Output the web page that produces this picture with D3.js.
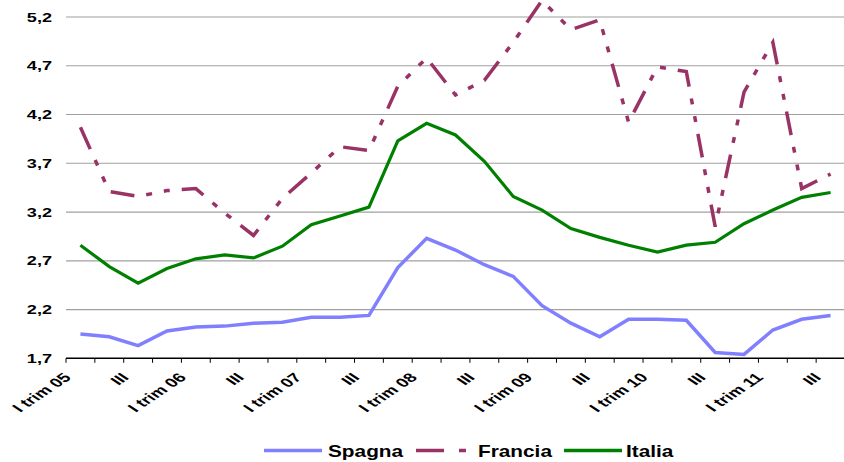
<!DOCTYPE html>
<html><head><meta charset="utf-8">
<script src="https://cdn.jsdelivr.net/npm/d3@7"></script>
<style>
html,body{margin:0;padding:0;background:#fff;}
text{font-family:"Liberation Sans",Arial,sans-serif;font-weight:bold;fill:#000;}
</style></head>
<body><svg id="c" width="844" height="462"></svg>
<script>
const quarters = ["I trim 05","II","III","IV","I trim 06","II","III","IV","I trim 07","II","III","IV",
  "I trim 08","II","III","IV","I trim 09","II","III","IV","I trim 10","II","III","IV","I trim 11","II","III"];
const yTicks = [1.7,2.2,2.7,3.2,3.7,4.2,4.7,5.2];
const spagna = [1.95,1.92,1.83,1.98,2.02,2.03,2.06,2.07,2.12,2.12,2.14,2.63,2.93,2.81,2.66,2.54,2.24,2.06,1.92,2.10,2.10,2.09,1.76,1.74,1.99,2.10,2.14];
const francia = [4.07,3.41,3.36,3.42,3.44,3.19,2.96,3.34,3.60,3.87,3.83,4.49,4.78,4.40,4.55,4.94,5.37,5.07,5.17,4.12,4.69,4.64,3.05,4.43,4.94,3.44,3.59];
const italia = [2.86,2.64,2.47,2.62,2.72,2.76,2.73,2.85,3.07,3.16,3.25,3.93,4.11,3.99,3.72,3.36,3.22,3.03,2.94,2.86,2.79,2.86,2.89,3.08,3.22,3.35,3.40];
const seriesNames = ["Spagna","Francia","Italia"];
const seriesColors = ["#8080FF","#993366","#008000"];

const svg = d3.select("#c");
const pLeft = 66, pRight = 845, pTop = 17, pBottom = 358.3;
const x = d3.scaleBand().domain(d3.range(quarters.length)).range([pLeft, pRight]).padding(0);
const y = d3.scaleLinear().domain([1.7, 5.2]).range([pBottom, pTop]);
const cx = i => x(i) + x.bandwidth() / 2;

// gridlines
svg.append("g").selectAll("line").data(yTicks.slice(1)).join("line")
  .attr("x1", pLeft).attr("x2", 844).attr("y1", d => y(d)).attr("y2", d => y(d))
  .attr("stroke", "#a0a0a0").attr("stroke-width", 1.2);

// y labels
svg.append("g").selectAll("text").data(yTicks).join("text")
  .attr("transform", d => `translate(52,${y(d)}) scale(1.45,1)`)
  .attr("text-anchor", "end").attr("dy", "0.36em").attr("font-size", 12.5)
  .text(d => d3.format(".1f")(d).replace(".", ","));

// x axis
svg.append("line").attr("x1", pLeft).attr("x2", 844).attr("y1", pBottom).attr("y2", pBottom)
  .attr("stroke", "#000").attr("stroke-width", 1.5);
svg.append("g").selectAll("line").data(d3.range(quarters.length + 1)).join("line")
  .attr("x1", i => pLeft + i * x.bandwidth()).attr("x2", i => pLeft + i * x.bandwidth())
  .attr("y1", pBottom).attr("y2", pBottom + 4.5).attr("stroke", "#000").attr("stroke-width", 1);

svg.append("g").selectAll("text").data(quarters.map((q, i) => ({q, i})).filter(d => d.i % 2 === 0)).join("text")
  .attr("transform", d => `translate(${cx(d.i) - 8.5},${pBottom + 20}) scale(1.5,1) rotate(-45)`)
  .attr("text-anchor", "end").attr("font-size", 12.7)
  .text(d => d.q);

// lines
const data = [spagna, francia, italia];
const line = d3.line().x((d, i) => cx(i)).y(d => y(d));
const dashes = [null, "24,12,6,12,6,12", null];
const widths = [3.5, 3.5, 3.2];
data.forEach((s, k) => {
  svg.append("path").datum(s).attr("d", line).attr("fill", "none")
    .attr("stroke", seriesColors[k]).attr("stroke-width", widths[k])
    .attr("stroke-dasharray", dashes[k]).attr("stroke-linejoin", "miter");
});

// legend
const legX = [264, 416, 564], legTx = [328, 478, 626];
seriesNames.forEach((n, k) => {
  svg.append("line").attr("x1", legX[k]).attr("x2", legX[k] + (k === 1 ? 52 : 58))
    .attr("y1", 450.5).attr("y2", 450.5).attr("stroke", seriesColors[k]).attr("stroke-width", 3.5)
    .attr("stroke-dasharray", k === 1 ? "28,15,7,15" : null);
  svg.append("text").attr("transform", `translate(${legTx[k]},457) scale(1.3,1)`)
    .attr("font-size", 16).text(n);
});
</script></body></html>
